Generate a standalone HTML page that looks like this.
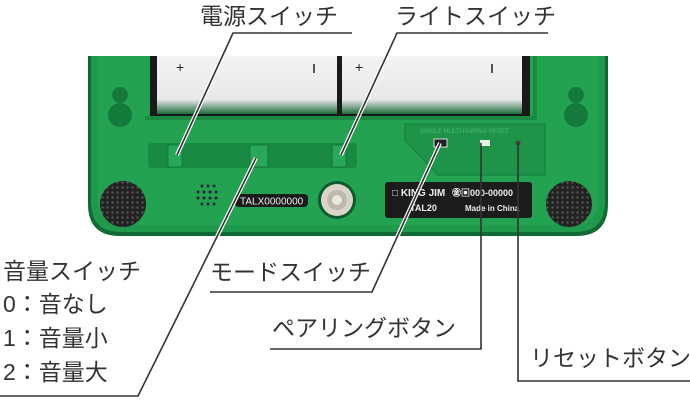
<!DOCTYPE html>
<html><head><meta charset="utf-8"><style>
html,body{margin:0;padding:0;background:#fff;width:690px;height:400px;overflow:hidden}
svg{display:block}
.t{font-family:"Liberation Sans","Noto Sans CJK JP",sans-serif;font-size:23px;fill:#333}
.l{stroke:#fff;stroke-width:4;fill:none}
.k{stroke:#333;stroke-width:1.6;fill:none}
</style></head><body>
<svg width="690" height="400" viewBox="0 0 690 400">
<defs>
<linearGradient id="bat" x1="0" y1="0" x2="0" y2="1"><stop offset="0" stop-color="#f4f4f4"/><stop offset="0.75" stop-color="#e8e8e8"/><stop offset="1" stop-color="#1d6b3a"/></linearGradient>
<pattern id="dots" width="5" height="5" patternUnits="userSpaceOnUse"><rect width="5" height="5" fill="#222"/><circle cx="2.5" cy="2.5" r="1.2" fill="#555"/></pattern>
</defs>
<path d="M88 56 H608 V204 Q608 236 576 236 H120 Q88 236 88 204 Z" fill="#0f6a34"/>
<path d="M91 56 H605 V202 Q605 232 575 232 H121 Q91 232 91 202 Z" fill="#1f9a4c"/>
<path d="M98 56 H598 V200 Q598 225 573 225 H123 Q98 225 98 200 Z" fill="#23a352"/>
<rect x="150" y="56" width="380" height="62" fill="#1a1a1a"/>
<rect x="157" y="56" width="180" height="58" fill="url(#bat)"/>
<rect x="342" y="56" width="180" height="58" fill="url(#bat)"/>
<path d="M145 118 H535 V56" stroke="#1a8a43" stroke-width="4" fill="none"/>
<text x="176" y="72" font-family="Liberation Sans" font-size="14" fill="#222">+</text>
<text x="355" y="72" font-family="Liberation Sans" font-size="14" fill="#222">+</text>
<rect x="313" y="64" width="2" height="9" fill="#555"/>
<rect x="491" y="64" width="2" height="9" fill="#555"/>
<circle cx="120" cy="95" r="8" fill="#137a3c"/><circle cx="120" cy="115" r="12" fill="#137a3c"/>
<circle cx="576" cy="95" r="8" fill="#137a3c"/><circle cx="576" cy="115" r="12" fill="#137a3c"/>
<path d="M405 124 H545 V175 H438 L405 140 Z" fill="#1e9449" stroke="#178540" stroke-width="1.5"/>
<text x="420" y="133" font-family="Liberation Sans" font-size="6" fill="#4fb874">SINGLE  MULTI  PAIRING   RESET</text>
<rect x="434" y="139" width="13" height="8" fill="#222" stroke="#ddd" stroke-width="1"/>
<rect x="480" y="140" width="10" height="6" fill="#e8f2e8"/>
<circle cx="518" cy="143" r="2.5" fill="#444"/>
<rect x="148" y="143" width="209" height="25" rx="3" fill="#198a44"/>
<rect x="168" y="145" width="14" height="22" rx="2" fill="#2aa85a" stroke="#147a3a"/>
<rect x="250" y="145" width="18" height="22" rx="2" fill="#2aa85a" stroke="#147a3a"/>
<rect x="332" y="145" width="14" height="22" rx="2" fill="#2aa85a" stroke="#147a3a"/>
<circle cx="123" cy="204" r="23" fill="url(#dots)"/>
<circle cx="569" cy="204" r="23" fill="url(#dots)"/>
<g fill="#123">
<circle cx="202" cy="186" r="1.5"/><circle cx="208" cy="186" r="1.5"/><circle cx="214" cy="186" r="1.5"/>
<circle cx="198" cy="192" r="1.5"/><circle cx="204" cy="192" r="1.5"/><circle cx="210" cy="192" r="1.5"/><circle cx="216" cy="192" r="1.5"/>
<circle cx="198" cy="198" r="1.5"/><circle cx="204" cy="198" r="1.5"/><circle cx="210" cy="198" r="1.5"/><circle cx="216" cy="198" r="1.5"/>
<circle cx="202" cy="204" r="1.5"/><circle cx="208" cy="204" r="1.5"/><circle cx="214" cy="204" r="1.5"/>
</g>
<rect x="235" y="194" width="73" height="13" rx="4" fill="#1a1a1a"/>
<text x="240" y="204.5" font-family="Liberation Sans" font-size="10" fill="#eee">TALX0000000</text>
<circle cx="337" cy="200" r="19" fill="#0e5a2c"/>
<circle cx="337" cy="200" r="16" fill="#d8d4c8"/>
<circle cx="337" cy="200" r="10" fill="#bdb8aa"/>
<circle cx="337" cy="200" r="5" fill="#e8e6e0"/>
<rect x="385" y="182" width="147" height="36" rx="3" fill="#1c1c1c"/>
<text x="392" y="196" font-family="Liberation Sans" font-weight="bold" font-size="10" fill="#eee">□ KING JIM</text>
<text x="452" y="196" font-family="Liberation Sans" font-weight="bold" font-size="9" fill="#eee">㊎▣000-00000</text>
<text x="410" y="211" font-family="Liberation Sans" font-weight="bold" font-size="9" fill="#eee">TAL20</text>
<text x="465" y="211" font-family="Liberation Sans" font-weight="bold" font-size="8" fill="#eee">Made in China</text>
<g class="l">
<path d="M233 33 L177 155"/><path d="M397 33 L341 155"/>
<path d="M138 396 L256 158"/><path d="M372 292 L440 143"/>
</g>
<g class="k">
<path d="M352 33 H233 L177 155"/>
<path d="M548 33 H397 L341 155"/>
<path d="M0 396 H138 L256 158"/>
<path d="M210 292 H372 L440 143"/>
<path d="M270 349 H481 V143"/>
<path d="M690 381 H518 V143"/>
</g>
<text class="t" x="200" y="24">電源スイッチ</text>
<text class="t" x="395" y="24">ライトスイッチ</text>
<text class="t" x="3" y="279">音量スイッチ</text>
<text class="t" x="3" y="312">0：音なし</text>
<text class="t" x="3" y="346">1：音量小</text>
<text class="t" x="3" y="380">2：音量大</text>
<text class="t" x="210" y="280">モードスイッチ</text>
<text class="t" x="272" y="336">ペアリングボタン</text>
<text class="t" x="530" y="366">リセットボタン</text>
</svg>
</body></html>
